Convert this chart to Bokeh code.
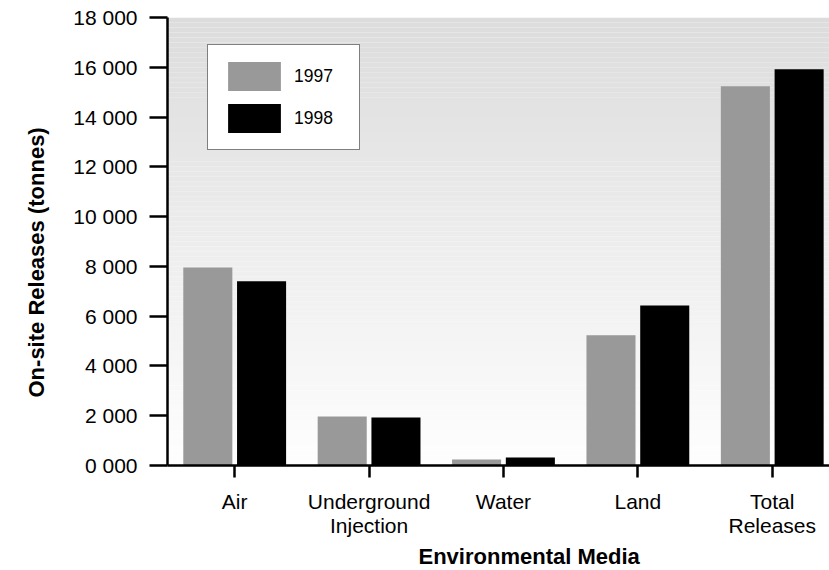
import numpy as np
from bokeh.plotting import figure
from bokeh.models import Range1d, FixedTicker, Legend, LegendItem, Title, ColumnDataSource
from bokeh.embed import file_html
from bokeh.resources import INLINE

# ---- data ----
categories = ["Air", "Underground\nInjection", "Water", "Land", "Total\nReleases"]
values_1997 = [7960, 1970, 240, 5230, 15240]
values_1998 = [7400, 1930, 320, 6430, 15920]
y_ticks = [0, 2000, 4000, 6000, 8000, 10000, 12000, 14000, 16000, 18000]
y_tick_labels = ["0 000", "2 000", "4 000", "6 000", "8 000", "10 000",
                 "12 000", "14 000", "16 000", "18 000"]
series_names = ["1997", "1998"]

FONT = "Liberation Sans"
idx = np.arange(len(categories))
X0, X1 = -0.5, 4.426

p = figure(width=829, height=570,
           x_range=Range1d(X0, X1), y_range=Range1d(0, 18000),
           output_backend="svg", toolbar_location=None,
           min_border_left=167, min_border_right=0,
           min_border_top=17, min_border_bottom=105)
p.outline_line_color = None
p.xgrid.grid_line_color = None
p.ygrid.grid_line_color = None
p.background_fill_color = "white"
p.border_fill_color = "white"

# background vertical gradient (decoration)
n_strips = 90
edges = np.linspace(0, 18000, n_strips + 1)
cols = []
for k in range(n_strips):
    frac = (edges[k] + edges[k + 1]) / 2 / 18000.0  # 0 bottom, 1 top
    g = int(round(254 - frac * (254 - 220)))
    cols.append("#%02x%02x%02x" % (g, g, g))
p.quad(left=X0, right=X1, bottom=edges[:-1], top=edges[1:],
       fill_color=cols, line_color=None)

src = ColumnDataSource(dict(x97=idx - 0.2, x98=idx + 0.2,
                            v97=values_1997, v98=values_1998))
r1 = p.vbar(x="x97", top="v97", bottom=0, width=0.365, source=src,
            fill_color="#999999", line_color=None)
r2 = p.vbar(x="x98", top="v98", bottom=0, width=0.365, source=src,
            fill_color="#000000", line_color=None)

# axes
for ax in (p.xaxis[0], p.yaxis[0]):
    ax.axis_line_width = 2.5
    ax.axis_line_color = "black"
    ax.major_tick_line_width = 2.5
    ax.major_tick_line_color = "black"
    ax.major_tick_in = 0
    ax.minor_tick_line_color = None
    ax.major_label_text_font = FONT
    ax.major_label_text_font_size = "21px"
    ax.major_label_text_color = "black"
    ax.axis_label_standoff = 0

p.yaxis.ticker = FixedTicker(ticks=y_ticks)
p.yaxis.major_label_overrides = {t: l for t, l in zip(y_ticks, y_tick_labels)}
p.yaxis.major_tick_out = 18
p.yaxis.major_label_standoff = 12

p.xaxis.ticker = FixedTicker(ticks=list(idx))
p.xaxis.major_label_overrides = {int(i): c for i, c in zip(idx, categories)}
p.xaxis.major_tick_out = 12
p.xaxis.major_label_standoff = 12
p.xaxis.major_label_text_line_height = 1.05

# axis titles
p.add_layout(Title(text="Environmental Media", align="left", offset=251,
                   text_font=FONT, text_font_size="22px",
                   text_font_style="bold", text_color="black",
                   standoff=4), "below")
p.add_layout(Title(text="On-site Releases (tonnes)", align="left", offset=68,
                   text_font=FONT, text_font_size="22px",
                   text_font_style="bold", text_color="black",
                   standoff=43), "left")

legend = Legend(items=[LegendItem(label=series_names[0], renderers=[r1]),
                       LegendItem(label=series_names[1], renderers=[r2])],
                location=(40, 315), margin=0, padding=13, spacing=6,
                glyph_width=66, glyph_height=36, label_height=36,
                label_width=52, label_standoff=7,
                label_text_font=FONT, label_text_font_size="17.5px",
                label_text_color="black",
                border_line_color="black", border_line_width=1.5,
                background_fill_color="white", background_fill_alpha=1.0)
p.add_layout(legend)

open("out.html", "w").write(file_html(p, INLINE))
